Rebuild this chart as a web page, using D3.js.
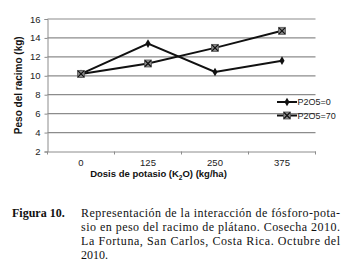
<!DOCTYPE html>
<html>
<head>
<meta charset="utf-8">
<script src="https://cdn.jsdelivr.net/npm/d3@7"></script>
<style>
  body { margin: 0; background: #fff; }
  svg { display: block; }
</style>
</head>
<body>
<svg id="chart" width="363" height="267"></svg>
<script>
// data
const doses = ["0", "125", "250", "375"];
const p0 = [10.2, 13.4, 10.4, 11.6];     // P2O5=0
const p70 = [10.2, 11.3, 12.95, 14.75];  // P2O5=70
const yTicks = [2, 4, 6, 8, 10, 12, 14, 16];
const seriesNames = ["P2O5=0", "P2O5=70"];
const captionLines = [
  "Representación de la interacción de fósforo-pota-",
  "sio en peso del racimo de plátano. Cosecha 2010.",
  "La Fortuna, San Carlos, Costa Rica. Octubre del",
  "2010."
];

const svg = d3.select("#chart");
const margin = {left: 47.5, right: 315.5, top: 19, bottom: 151.5};
const sans = "Liberation Sans, Arial, sans-serif";

const x = d3.scaleBand().domain(doses).range([margin.left, margin.right]);
const y = d3.scaleLinear().domain([2, 16]).range([margin.bottom, margin.top]);

// gridlines
svg.append("g").selectAll("line").data(yTicks.slice(1)).enter().append("line")
  .attr("x1", margin.left).attr("x2", margin.right)
  .attr("y1", d => y(d)).attr("y2", d => y(d))
  .attr("stroke", "#8c8c8c").attr("stroke-width", 1.2);

// y axis
const yAxis = svg.append("g").attr("transform", `translate(${margin.left},0)`)
  .call(d3.axisLeft(y).tickValues(yTicks).tickSize(3).tickPadding(4));
yAxis.select(".domain").attr("stroke", "#8c8c8c");
yAxis.selectAll(".tick line").attr("stroke", "#8c8c8c");
yAxis.selectAll("text").attr("font-family", sans)
  .attr("font-size", 9.5).attr("fill", "#222");

// x axis
const xAxis = svg.append("g").attr("transform", `translate(0,${margin.bottom})`)
  .call(d3.axisBottom(x).tickSize(0).tickPadding(8));
xAxis.select(".domain").attr("stroke", "#8c8c8c");
xAxis.selectAll("text").attr("font-family", sans)
  .attr("font-size", 9.5).attr("fill", "#222");
xAxis.selectAll(".bound").data(doses.concat([""])).enter().append("line")
  .attr("class", "bound")
  .attr("x1", (d, i) => margin.left + x.step() * i).attr("x2", (d, i) => margin.left + x.step() * i)
  .attr("y1", 0).attr("y2", 3).attr("stroke", "#8c8c8c");

// axis titles
svg.append("text")
  .attr("transform", `translate(22,${(margin.top + margin.bottom) / 2}) rotate(-90)`)
  .attr("text-anchor", "middle")
  .attr("font-family", sans)
  .attr("font-size", 10).attr("font-weight", "bold").attr("fill", "#111")
  .text("Peso del racimo (kg)");

const xt = svg.append("text")
  .attr("x", 158.5).attr("y", 177)
  .attr("text-anchor", "middle")
  .attr("font-family", sans)
  .attr("font-size", 9.5).attr("font-weight", "bold").attr("fill", "#111");
xt.append("tspan").text("Dosis de potasio (K");
xt.append("tspan").attr("font-size", 6.5).attr("dy", 2.5).text("2");
xt.append("tspan").attr("dy", -2.5).text("O) (kg/ha)");

// lines
const line = d3.line().x((d, i) => x(doses[i]) + x.bandwidth() / 2).y(d => y(d));
const series = [p0, p70];

series.forEach(vals => {
  svg.append("path").datum(vals)
    .attr("d", line).attr("fill", "none")
    .attr("stroke", "#111").attr("stroke-width", 2);
});

function diamond(g, cx, cy) {
  g.append("path")
    .attr("d", d3.symbol().type(d3.symbolDiamond).size(22)())
    .attr("transform", `translate(${cx},${cy})`)
    .attr("fill", "#111");
}
function xbox(g, cx, cy) {
  g.append("rect").attr("x", cx - 3.5).attr("y", cy - 3.5)
    .attr("width", 7).attr("height", 7)
    .attr("fill", "#8a8a8a").attr("stroke", "#555").attr("stroke-width", 0.8);
  g.append("path")
    .attr("d", `M${cx - 3},${cy - 3}L${cx + 3},${cy + 3}M${cx + 3},${cy - 3}L${cx - 3},${cy + 3}`)
    .attr("stroke", "#111").attr("stroke-width", 1.2);
}
const markers = [diamond, xbox];

const mk = svg.append("g");
series.forEach((vals, s) => {
  vals.forEach((v, i) => markers[s](mk, x(doses[i]) + x.bandwidth() / 2, y(v)));
});

// legend
const lg = svg.append("g");
seriesNames.forEach((name, s) => {
  const ly = 102 + s * 13.5;
  lg.append("line").attr("x1", 277).attr("x2", 297).attr("y1", ly).attr("y2", ly)
    .attr("stroke", "#111").attr("stroke-width", 2);
  markers[s](lg, 287, ly);
  lg.append("text").attr("x", 297.5).attr("y", ly + 3.2)
    .attr("font-family", sans)
    .attr("font-size", 9).attr("fill", "#222").text(name);
});

// caption
svg.append("text").attr("x", 12).attr("y", 216.5)
  .attr("font-family", "Liberation Serif, Times New Roman, serif")
  .attr("font-size", 12).attr("font-weight", "bold").attr("fill", "#111")
  .text("Figura 10.");

svg.append("g").selectAll("text").data(captionLines).enter().append("text")
  .attr("x", 81).attr("y", (d, i) => 216.5 + i * 14)
  .attr("font-family", "Liberation Serif, Times New Roman, serif")
  .attr("font-size", 12).attr("fill", "#111")
  .each(function(d, i) {
    if (i < captionLines.length - 1) {
      d3.select(this).attr("textLength", 259).attr("lengthAdjust", "spacing");
    }
  })
  .text(d => d);
</script>
</body>
</html>
